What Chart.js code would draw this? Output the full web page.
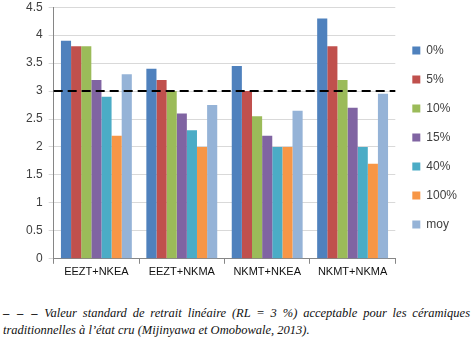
<!DOCTYPE html>
<html>
<head>
<meta charset="utf-8">
<script src="https://cdn.jsdelivr.net/npm/chart.js@4"></script>
<style>
  body { margin: 0; background: #fff; }
  #wrap { position: relative; width: 471px; height: 287px; margin-top: -6px; }
  #note {
    font-family: "Liberation Serif", serif; font-style: italic; font-size: 12.5px;
    color: #111; margin: 24px 1px 0 3px; line-height: 17px; text-align: justify;
    text-align-last: left;
  }
  #note .first { display: block; text-align: justify; text-align-last: justify; }
  #note b { font-style: normal; font-weight: bold; letter-spacing: 1px; }
</style>
</head>
<body>
<div id="wrap"><canvas id="c"></canvas></div>
<div id="note"><span class="first"><b>‒ ‒ ‒</b> Valeur standard de retrait linéaire (RL = 3 %) acceptable pour les céramiques</span>traditionnelles à l’état cru (Mijinyawa et Omobowale, 2013).</div>
<script>
const categories = ['EEZT+NKEA', 'EEZT+NKMA', 'NKMT+NKEA', 'NKMT+NKMA'];
const seriesNames = ['0%', '5%', '10%', '15%', '40%', '100%', 'moy'];
const s0 = [3.9, 3.4, 3.45, 4.3];
const s5 = [3.8, 3.2, 3.0, 3.8];
const s10 = [3.8, 3.0, 2.55, 3.2];
const s15 = [3.2, 2.6, 2.2, 2.7];
const s40 = [2.9, 2.3, 2.0, 2.0];
const s100 = [2.2, 2.0, 2.0, 1.7];
const moy = [3.3, 2.75, 2.65, 2.95];
const standardRL = 3;

const colors = ['#4F81BD', '#C0504D', '#9BBB59', '#8064A2', '#4BACC6', '#F79646', '#95B3D7'];
const allSeries = [s0, s5, s10, s15, s40, s100, moy];

// dashed reference line at RL = 3
const refLine = {
  id: 'refLine',
  afterDatasetsDraw(chart) {
    const { ctx, chartArea, scales } = chart;
    const y = scales.y.getPixelForValue(standardRL);
    ctx.save();
    ctx.strokeStyle = '#000';
    ctx.lineWidth = 2;
    ctx.setLineDash([9, 5]);
    ctx.beginPath();
    ctx.moveTo(chartArea.left, y);
    ctx.lineTo(chartArea.right, y);
    ctx.stroke();
    ctx.restore();
  }
};

new Chart(document.getElementById('c'), {
  type: 'bar',
  data: {
    labels: categories,
    datasets: allSeries.map((d, i) => ({
      label: seriesNames[i],
      data: d,
      backgroundColor: colors[i],
      barPercentage: 1,
      categoryPercentage: 0.83
    }))
  },
  options: {
    responsive: true,
    maintainAspectRatio: false,
    animation: false,
    layout: { padding: { top: 0, left: 20, right: 4 } },
    plugins: {
      legend: {
        position: 'right',
        labels: {
          boxWidth: 8, boxHeight: 8, padding: 17,
          color: '#404040',
          font: { family: 'Liberation Sans', size: 12 }
        }
      },
      tooltip: { enabled: false }
    },
    scales: {
      x: {
        grid: { display: true, drawOnChartArea: false, tickLength: 5, color: '#868686' },
        border: { color: '#868686' },
        ticks: { color: '#111', font: { family: 'Liberation Sans', size: 11 }, padding: 2 }
      },
      y: {
        min: 0, max: 4.5,
        ticks: {
          stepSize: 0.5, color: '#404040', padding: 6,
          font: { family: 'Liberation Sans', size: 12 },
          callback: v => String(v)
        },
        grid: { color: '#d9d9d9', tickLength: 5 },
        border: { color: '#868686' }
      }
    }
  },
  plugins: [refLine]
});
</script>
</body>
</html>
